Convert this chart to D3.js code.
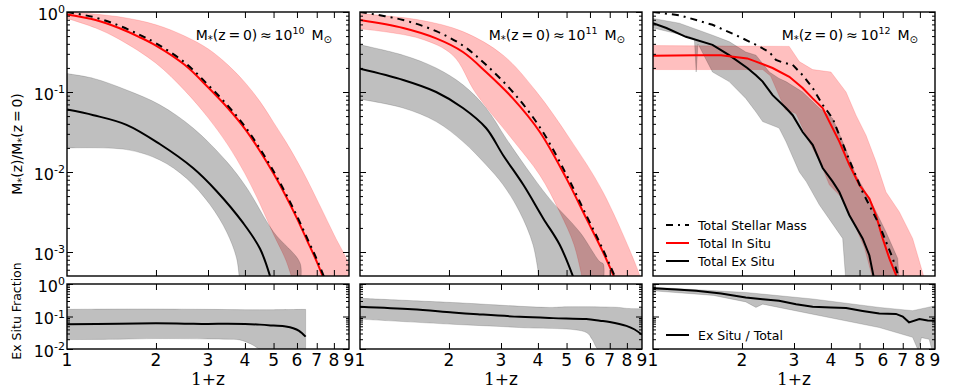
<!DOCTYPE html>
<html>
<head>
<meta charset="utf-8">
<script src="https://cdn.jsdelivr.net/npm/d3@7"></script>
<style>
    body { margin: 0; background: #fff; }
    text { font-family: "DejaVu Sans", sans-serif; fill: #000; }
</style>
</head>
<body>
<svg id="chart"></svg>
<script>
// all series: [1+z, log10(value)]
var xTicks = [1, 2, 3, 4, 5, 6, 7, 8, 9];
var massExp = ['10', '11', '12'];
var mainExp = ['0', '-1', '-2', '-3'];
var fracExp = ['0', '-1', '-2'];

// ---- M*(z=0) ~ 10^10
var p1Total = [[1, 0], [1.25, -0.07], [1.5, -0.17], [1.75, -0.28], [2, -0.39], [2.5, -0.63], [3, -0.91], [3.5, -1.17], [4, -1.43], [4.5, -1.71], [5, -1.99], [5.5, -2.27], [6, -2.55], [6.5, -2.83], [7, -3.09], [7.5, -3.36]];
var p1InSitu = [[1, -0.03], [1.25, -0.1], [1.5, -0.2], [1.75, -0.31], [2, -0.42], [2.5, -0.66], [3, -0.94], [3.5, -1.2], [4, -1.46], [4.5, -1.74], [5, -2.02], [5.5, -2.3], [6, -2.58], [6.5, -2.86], [7, -3.12], [7.4, -3.34]];
var p1InSituHi = [[1, 0], [1.5, -0.06], [2, -0.16], [2.5, -0.3], [3, -0.46], [3.5, -0.66], [4, -0.88], [4.5, -1.12], [5, -1.38], [5.5, -1.62], [6, -1.86], [6.5, -2.1], [7, -2.34], [8, -2.78], [9, -3.18], [9, -3.4]];
var p1InSituLo = [[1, -0.08], [1.25, -0.2], [1.5, -0.34], [2, -0.64], [2.5, -0.98], [3, -1.32], [3.5, -1.66], [4, -2.02], [4.5, -2.4], [5, -2.78], [5.5, -3.1], [5.85, -3.4]];
var p1ExSitu = [[1, -1.22], [1.23, -1.29], [1.59, -1.41], [2.06, -1.65], [2.67, -1.95], [3.21, -2.24], [3.95, -2.64], [4.5, -2.96], [4.9, -3.34]];
var p1ExSituHi = [[1, -0.77], [1.23, -0.83], [1.59, -0.975], [2.06, -1.16], [2.67, -1.45], [3.47, -1.87], [4.06, -2.2], [5, -2.75], [6.15, -3.14], [6.15, -3.4]];
var p1ExSituLo = [[1, -1.7], [1.59, -1.72], [2.06, -1.85], [2.54, -2.08], [3.05, -2.41], [3.47, -2.75], [3.75, -3.08], [3.84, -3.4]];
var p1Frac = [[1, -1.24], [1.5, -1.22], [2, -1.21], [2.5, -1.22], [3, -1.23], [3.5, -1.22], [4, -1.23], [4.5, -1.25], [5, -1.28], [5.5, -1.31], [5.83, -1.36], [6.1, -1.44], [6.42, -1.62]];
var p1FracHi = [[1, -0.78], [1.5, -0.77], [2, -0.77], [3, -0.78], [4, -0.79], [5, -0.79], [6.42, -0.78]];
var p1FracLo = [[1, -1.71], [1.5, -1.7], [2, -1.68], [3, -1.69], [3.5, -1.7], [3.84, -1.72], [4.2, -1.85], [4.62, -2.05], [6.42, -2.05]];

// ---- M*(z=0) ~ 10^11
var p2Total = [[1, 0], [1.4, -0.1], [1.81, -0.24], [2.23, -0.42], [2.67, -0.66], [3.29, -1.0], [4.06, -1.44], [4.99, -2.03], [5.83, -2.54], [6.64, -2.97], [7.35, -3.34]];
var p2InSitu = [[1, -0.1], [1.4, -0.2], [1.81, -0.33], [2.23, -0.5], [2.67, -0.75], [3.29, -1.08], [4.06, -1.5], [4.99, -2.08], [5.83, -2.58], [6.64, -3.0], [7.3, -3.34]];
var p2InSituHi = [[1, -0.02], [1.59, -0.1], [2.23, -0.245], [3.05, -0.54], [3.95, -0.995], [5.12, -1.58], [6.64, -2.25], [8.84, -3.29], [9, -3.4]];
var p2InSituLo = [[1, -0.21], [1.59, -0.33], [2.06, -0.54], [2.47, -1.02], [3.29, -1.6], [4.06, -2.04], [4.74, -2.5], [5.3, -2.91], [5.7, -3.4]];
var p2ExSitu = [[1, -0.71], [1.4, -0.85], [1.81, -1.0], [2.23, -1.2], [2.67, -1.45], [3.05, -1.79], [3.57, -2.16], [4.17, -2.58], [4.74, -2.91], [5.3, -3.34]];
var p2ExSituHi = [[1, -0.41], [1.4, -0.54], [1.81, -0.7], [2.23, -0.91], [2.67, -1.2], [3.12, -1.58], [3.66, -1.95], [4.37, -2.33], [5.54, -2.75], [6.47, -3.12], [6.66, -3.15], [6.66, -3.4]];
var p2ExSituLo = [[1, -1.09], [1.4, -1.2], [1.81, -1.37], [2.23, -1.62], [2.67, -1.91], [3.05, -2.16], [3.47, -2.5], [3.85, -2.91], [4.06, -3.4]];
var p2Frac = [[1, -0.7], [1.5, -0.78], [2.06, -0.877], [2.5, -0.93], [3.47, -1.01], [4.5, -1.05], [5.83, -1.08], [6.48, -1.13], [7, -1.17], [7.97, -1.29], [8.5, -1.4], [9, -1.56]];
var p2FracHi = [[1, -0.44], [2.06, -0.57], [4.37, -0.72], [5, -0.7], [7.5, -0.72], [8, -0.75], [9, -0.76]];
var p2FracLo = [[1, -1.08], [2.06, -1.24], [3.47, -1.34], [5.83, -1.49], [6.1, -1.7], [6.47, -2.05], [9, -2.05]];

// ---- M*(z=0) ~ 10^12
var p3Total = [[1, 0], [1.228, -0.04], [1.59, -0.16], [1.909, -0.29], [2.231, -0.41], [2.475, -0.5], [2.607, -0.6], [2.746, -0.63], [2.969, -0.66], [3.209, -0.79], [3.47, -0.95], [3.751, -1.16], [4.055, -1.33], [4.5, -1.75], [5.12, -2.25], [5.83, -2.66], [6.473, -3.08], [6.82, -3.34]];
var p3InSitu = [[1, -0.546], [1.4, -0.54], [1.7, -0.54], [2.085, -0.58], [2.231, -0.62], [2.539, -0.7], [2.893, -0.81], [3.209, -0.95], [3.47, -1.08], [3.751, -1.2], [3.95, -1.37], [4.271, -1.62], [4.617, -1.91], [4.99, -2.16], [5.395, -2.33], [5.683, -2.54], [5.986, -2.83], [6.306, -3.08], [6.729, -3.34]];
var p3InSituHi = [[1, -0.42], [2.89, -0.43], [3.127, -0.62], [3.47, -0.72], [4.0, -0.75], [4.5, -1.0], [4.863, -1.29], [5.257, -1.54], [5.683, -1.87], [6.143, -2.25], [6.82, -2.5], [7.56, -2.83], [8.39, -3.4]];
var p3InSituLo = [[1, -0.72], [2.35, -0.72], [2.5, -0.8], [2.8, -1.22], [3.05, -1.27], [3.3, -1.55], [3.7, -1.9], [3.95, -2.16], [4.3, -2.3], [4.8, -2.65], [5.2, -2.95], [5.6, -3.4]];
var p3ExSitu = [[1, -0.14], [1.11, -0.2], [1.292, -0.31], [1.59, -0.41], [1.81, -0.54], [2.085, -0.7], [2.231, -0.79], [2.35, -0.87], [2.539, -1.04], [2.818, -1.2], [2.969, -1.29], [3.209, -1.5], [3.47, -1.66], [3.751, -1.95], [4.055, -2.12], [4.271, -2.25], [4.617, -2.54], [5.12, -2.83], [5.395, -3.04], [5.6, -3.34]];
var p3ExSituHi = [[1, -0.08], [1.228, -0.14], [1.59, -0.29], [1.81, -0.37], [2.06, -0.5], [2.231, -0.54], [2.475, -0.75], [2.67, -0.83], [2.818, -0.87], [3.209, -1.0], [3.654, -1.2], [4.055, -1.33], [4.383, -1.62], [4.863, -2.04], [5.537, -2.41], [6.143, -2.75], [6.729, -3.08], [6.82, -3.4]];
var p3ExSituLo = [[1, -0.2], [1.3, -0.3], [1.38, -0.33], [1.4, -0.75], [1.42, -0.4], [1.59, -0.75], [1.81, -0.87], [2.06, -1.08], [2.231, -1.25], [2.35, -1.37], [2.67, -1.45], [2.818, -1.62], [3.127, -2.0], [3.3, -2.12], [3.654, -2.41], [4.383, -2.83], [4.5, -3.4]];
var p3Frac = [[1, -0.13], [1.2, -0.17], [1.4, -0.21], [1.7, -0.29], [2.06, -0.415], [2.35, -0.47], [2.67, -0.518], [3.05, -0.62], [3.47, -0.7], [4, -0.72], [4.5, -0.74], [5.12, -0.83], [5.83, -0.91], [6.64, -0.92], [7.0, -1.0], [7.35, -1.18], [7.97, -1.08], [8.5, -1.12], [9, -1.13]];
var p3FracHi = [[1, -0.1], [2.06, -0.26], [3.47, -0.46], [5.83, -0.72], [7.56, -0.82], [8.5, -0.72], [9, -0.67]];
var p3FracLo = [[1, -0.21], [1.6, -0.35], [2.06, -0.55], [2.23, -0.72], [2.35, -0.62], [3.47, -0.93], [5.83, -1.34], [7.56, -1.64], [7.9, -2.05], [8.1, -1.65], [8.6, -1.7], [8.8, -2.05], [9, -2.05]];

var panels = [
    { total: p1Total, inSitu: p1InSitu, inHi: p1InSituHi, inLo: p1InSituLo, ex: p1ExSitu, exHi: p1ExSituHi, exLo: p1ExSituLo, frac: p1Frac, fracHi: p1FracHi, fracLo: p1FracLo, smooth: true },
    { total: p2Total, inSitu: p2InSitu, inHi: p2InSituHi, inLo: p2InSituLo, ex: p2ExSitu, exHi: p2ExSituHi, exLo: p2ExSituLo, frac: p2Frac, fracHi: p2FracHi, fracLo: p2FracLo, smooth: true },
    { total: p3Total, inSitu: p3InSitu, inHi: p3InSituHi, inLo: p3InSituLo, ex: p3ExSitu, exHi: p3ExSituHi, exLo: p3ExSituLo, frac: p3Frac, fracHi: p3FracHi, fracLo: p3FracLo, smooth: false }
];

var width = 954,
    height = 390;
var panelW = 282;
var lefts = [67, 360, 653];
var mainTop = 12, mainBot = 276, fracTop = 284, fracBot = 349;

var svg = d3.select('#chart')
    .attr('width', width)
    .attr('height', height);

var mainMinor = [], fracMinor = [];
[1e-4, 1e-3, 1e-2, 1e-1].forEach(function (b) {
    d3.range(2, 10).forEach(function (k) {
        var v = k * b;
        if (v > Math.pow(10, -3.3)) mainMinor.push(v);
        if (b >= 1e-2) fracMinor.push(v);
    });
});

function lineGen(x, y, smooth) {
    return d3.line()
        .x(function (d) { return x(d[0]); })
        .y(function (d) { return y(Math.pow(10, d[1])); })
        .curve(smooth ? d3.curveCatmullRom.alpha(0.5) : d3.curveLinear);
}

// upper edge, then lower edge walked back, closed
function band(x, y, hi, lo, smooth) {
    var l = lineGen(x, y, smooth);
    return l(hi) + 'L' + l(lo.slice().reverse()).slice(1) + 'Z';
}

// inward ticks on all four sides
function frameTicks(g, x, y, top, bot, L, minor) {
    var majorY = y.domain()[0] < 1e-3 ? [1, 0.1, 0.01, 0.001] : [1, 0.1, 0.01];
    var sides = [
        [d3.axisLeft(y), 'translate(' + L + ',0)'],
        [d3.axisRight(y), 'translate(' + (L + panelW) + ',0)']
    ];
    sides.forEach(function (s) {
        g.append('g').attr('transform', s[1])
            .call(s[0].tickValues(majorY).tickSize(-6).tickFormat(''));
        g.append('g').attr('transform', s[1])
            .call(s[0].tickValues(minor).tickSize(-3).tickFormat(''));
    });
    g.append('g').attr('transform', 'translate(0,' + top + ')')
        .call(d3.axisTop(x).tickValues([2, 3, 4, 5, 6, 7, 8]).tickSize(-6).tickFormat(''));
    g.append('g').attr('transform', 'translate(0,' + bot + ')')
        .call(d3.axisBottom(x).tickValues([2, 3, 4, 5, 6, 7, 8]).tickSize(-6).tickFormat(''));
    g.selectAll('.domain').remove();
    g.selectAll('.tick line').attr('stroke', '#000').attr('stroke-width', 1);
    g.append('rect')
        .attr('x', L).attr('y', top)
        .attr('width', panelW).attr('height', bot - top)
        .attr('fill', 'none').attr('stroke', '#000').attr('stroke-width', 1.4);
}

function powLabel(x, y, exp) {
    var t = svg.append('text')
        .attr('x', x).attr('y', y)
        .attr('text-anchor', 'end')
        .style('font-size', '16px');
    t.append('tspan').text('10');
    t.append('tspan').attr('dy', -6.5).style('font-size', '11px').text(exp);
}

panels.forEach(function (p, i) {
    var L = lefts[i];
    var x = d3.scaleLog().domain([1, 9]).range([L, L + panelW]);
    var y = d3.scaleLog().domain([Math.pow(10, -3.3), 1]).range([mainBot, mainTop]);
    var yf = d3.scaleLog().domain([0.01, 1]).range([fracBot, fracTop]);
    var s = p.smooth;

    var defs = svg.append('defs');
    defs.append('clipPath').attr('id', 'clipm' + i)
        .append('rect').attr('x', L).attr('y', mainTop).attr('width', panelW).attr('height', mainBot - mainTop);
    defs.append('clipPath').attr('id', 'clipf' + i)
        .append('rect').attr('x', L).attr('y', fracTop).attr('width', panelW).attr('height', fracBot - fracTop);

    // main panel
    var gm = svg.append('g').attr('clip-path', 'url(#clipm' + i + ')');
    gm.append('path')
        .attr('d', band(x, y, p.inHi, p.inLo, s))
        .attr('fill', '#ff0000').attr('fill-opacity', 0.25)
        .attr('stroke', '#ff0000').attr('stroke-opacity', 0.15).attr('stroke-width', 1);
    gm.append('path')
        .attr('d', band(x, y, p.exHi, p.exLo, s))
        .attr('fill', '#000').attr('fill-opacity', 0.25)
        .attr('stroke', '#000').attr('stroke-opacity', 0.15).attr('stroke-width', 1);
    gm.append('path')
        .attr('d', lineGen(x, y, s)(p.ex))
        .attr('fill', 'none').attr('stroke', '#000').attr('stroke-width', 2);
    gm.append('path')
        .attr('d', lineGen(x, y, s)(p.inSitu))
        .attr('fill', 'none').attr('stroke', '#ff0000').attr('stroke-width', 2);
    gm.append('path')
        .attr('d', lineGen(x, y, s)(p.total))
        .attr('fill', 'none').attr('stroke', '#000').attr('stroke-width', 2)
        .attr('stroke-dasharray', '7,5,2,5');

    // ex situ fraction panel
    var gf = svg.append('g').attr('clip-path', 'url(#clipf' + i + ')');
    gf.append('path')
        .attr('d', band(x, yf, p.fracHi, p.fracLo, s))
        .attr('fill', '#000').attr('fill-opacity', 0.25)
        .attr('stroke', '#000').attr('stroke-opacity', 0.15).attr('stroke-width', 1);
    gf.append('path')
        .attr('d', lineGen(x, yf, s)(p.frac))
        .attr('fill', 'none').attr('stroke', '#000').attr('stroke-width', 2);

    frameTicks(svg.append('g'), x, y, mainTop, mainBot, L, mainMinor);
    frameTicks(svg.append('g'), x, yf, fracTop, fracBot, L, fracMinor);

    // x tick labels
    svg.append('g').selectAll('text')
        .data(xTicks).enter()
        .append('text')
        .attr('x', function (d) { return x(d); })
        .attr('y', 366)
        .attr('text-anchor', 'middle')
        .style('font-size', '17px')
        .text(function (d) { return d; });

    var xl = svg.append('text')
        .attr('x', L + panelW / 2).attr('y', 385)
        .attr('text-anchor', 'middle')
        .style('font-size', '17px');
    xl.append('tspan').style('font-family', '"DejaVu Serif", serif').text('1+');
    xl.append('tspan').text('z');

    // mass annotation
    var ann = svg.append('text')
        .attr('x', L + panelW - 17).attr('y', 40)
        .attr('text-anchor', 'end')
        .style('font-size', '14px');
    ann.append('tspan').text('M');
    ann.append('tspan').attr('dy', 3).style('font-size', '10px').text('*');
    ann.append('tspan').attr('dy', -3).text('(z\u2009=\u20090)\u2009\u2248\u200910');
    ann.append('tspan').attr('dy', -6).style('font-size', '9.5px').text(massExp[i]);
    ann.append('tspan').attr('dy', 6).text('\u2002M');
    ann.append('tspan').attr('dy', 3).style('font-size', '10px').text('\u2299');
});

// y tick labels, left panel only
var yMain = d3.scaleLog().domain([Math.pow(10, -3.3), 1]).range([mainBot, mainTop]);
var yFrac = d3.scaleLog().domain([0.01, 1]).range([fracBot, fracTop]);
mainExp.forEach(function (e) { powLabel(65, yMain(Math.pow(10, +e)) + 7.5, e); });
fracExp.forEach(function (e) { powLabel(65, yFrac(Math.pow(10, +e)) + 7.5, e); });

// y axis titles
var yl = svg.append('text')
    .attr('transform', 'translate(22,' + ((mainTop + mainBot) / 2) + ')rotate(-90)')
    .attr('text-anchor', 'middle')
    .style('font-size', '14px');
yl.append('tspan').text('M');
yl.append('tspan').attr('dy', 3).style('font-size', '10px').text('*');
yl.append('tspan').attr('dy', -3).text('(z)/M');
yl.append('tspan').attr('dy', 3).style('font-size', '10px').text('*');
yl.append('tspan').attr('dy', -3).text('(z\u2009=\u20090)');

svg.append('text')
    .attr('transform', 'translate(21,311)rotate(-90)')
    .attr('text-anchor', 'middle')
    .style('font-size', '12.5px')
    .text('Ex Situ Fraction');

// legends in the right panels
var legend = [
    { label: 'Total Stellar Mass', color: '#000', dash: '7,5,2,5', y: 225 },
    { label: 'Total In Situ', color: '#ff0000', dash: null, y: 243 },
    { label: 'Total Ex Situ', color: '#000', dash: null, y: 261 },
    { label: 'Ex Situ / Total', color: '#000', dash: null, y: 335 }
];
var lg = svg.append('g').selectAll('g').data(legend).enter().append('g');
lg.append('line')
    .attr('x1', 666).attr('x2', 689)
    .attr('y1', function (d) { return d.y; }).attr('y2', function (d) { return d.y; })
    .attr('stroke', function (d) { return d.color; })
    .attr('stroke-width', 2)
    .attr('stroke-dasharray', function (d) { return d.dash; });
lg.append('text')
    .attr('x', 698)
    .attr('y', function (d) { return d.y + 4.5; })
    .style('font-size', '12.5px')
    .text(function (d) { return d.label; });
</script>
</body>
</html>
